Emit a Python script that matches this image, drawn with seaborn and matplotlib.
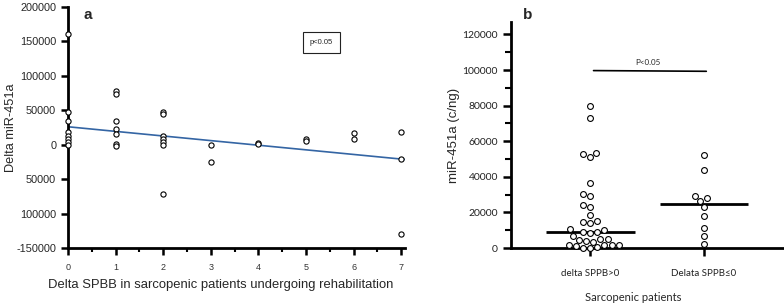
import numpy as np
import pandas as pd
import matplotlib
matplotlib.use("Agg")
import matplotlib.pyplot as plt
from matplotlib.ticker import MultipleLocator
import seaborn as sns

# panel a: change in SPPB vs change in miR-451a
spbb_delta = [0, 0, 0, 0, 0, 0, 0, 0,
              1, 1, 1, 1, 1, 1, 1,
              2, 2, 2, 2, 2, 2, 2,
              3, 3, 4, 4, 5, 5, 6, 6,
              7, 7, 7]
mir_delta = [161000, 48000, 35000, 18000, 12000, 8000, 4000, 0,
             78000, 74000, 35000, 23000, 16000, 1000, -2000,
             48000, 44000, 12000, 8000, 4000, 0, -72000,
             0, -25000, 3000, 1500, 8000, 5000, 17000, 8000,
             19000, -21000, -130000]
fit_intercept = 26000
fit_slope = -6700
a_ytick_vals = [-150000, -100000, -50000, 0, 50000, 100000, 150000, 200000]
a_ytick_labels = ["-150000", "100000", "50000", "0", "50000", "100000", "150000", "200000"]

# panel b: miR-451a by SPPB group
groups = ["delta SPPB>0", "Delata SPPB\u22640"]
mir_pos = [80000, 73000, 53500, 53000, 51400, 36600, 30400, 29300, 24200, 22900,
           18600, 15400, 14800, 14300, 10500, 10000, 9000, 9000, 8500, 7000,
           5000, 5000, 4500, 4000, 3500, 1500, 1500, 1500, 1500, 1000, 300, 0, 0]
mir_neg = [52200, 43600, 29300, 28000, 26500, 23100, 18200, 11400, 6900, 2400]

sns.set_style("ticks")
plt.rcParams["font.family"] = ["Liberation Sans", "DejaVu Sans"]
lato = ["Lato", "DejaVu Sans"]

fig = plt.figure(figsize=(7.84, 3.06), dpi=100)
ax1 = fig.add_axes([0.0867, 0.1895, 0.430, 0.788])
ax2 = fig.add_axes([0.652, 0.1895, 0.348, 0.7386])

# ---- panel a
df_a = pd.DataFrame({"x": spbb_delta, "y": mir_delta})
ax1.axline((0, fit_intercept), slope=fit_slope, color="#3465a4", lw=1.2, zorder=2)
sns.scatterplot(data=df_a, x="x", y="y", ax=ax1, marker="o", s=14,
                facecolor="white", edgecolor="black", linewidth=0.8,
                zorder=5, clip_on=False)
ax1.set_xlim(0, 7.08)
ax1.set_ylim(-150000, 200000)
ax1.set_yticks(a_ytick_vals)
ax1.set_yticklabels(a_ytick_labels, fontsize=7.8)
ax1.set_xticks(range(8))
ax1.xaxis.set_minor_locator(MultipleLocator(0.5))
ax1.tick_params(axis="x", labelsize=6.5, labelcolor="#333333", pad=6)
ax1.tick_params(which="major", length=5, width=1.8, direction="out", color="black")
ax1.tick_params(which="minor", axis="x", length=3, width=1.5, color="black")
ax1.set_xlabel("Delta SPBB in sarcopenic patients undergoing rehabilitation",
               fontsize=9.4)
ax1.xaxis.set_label_coords(0.454, -0.155)
ax1.xaxis.label.set_va("center")
ax1.set_ylabel("Delta miR-451a", fontsize=9.2)
ax1.yaxis.set_label_coords(-0.168, 0.5)
ax1.yaxis.label.set_va("center")
for sp in ["left", "bottom"]:
    ax1.spines[sp].set_linewidth(2.0)
    ax1.spines[sp].set_color("black")
sns.despine(ax=ax1)
ax1.text(0.06, 0.967, "a", transform=ax1.transAxes, fontsize=11, fontweight="bold",
         ha="center", va="center")
ax1.text(0.751, 0.851, "p<0.05", transform=ax1.transAxes, fontsize=5.5,
         ha="center", va="center",
         bbox=dict(boxstyle="square,pad=0.9", facecolor="white",
                   edgecolor="#222222", linewidth=0.8))

# ---- panel b
df_b = pd.DataFrame({
    "group": [groups[0]] * len(mir_pos) + [groups[1]] * len(mir_neg),
    "value": mir_pos + mir_neg,
})
sns.swarmplot(data=df_b, x="group", y="value", order=groups, ax=ax2, size=4.2,
              color="white", edgecolor="black", linewidth=0.8, zorder=5)
for coll in ax2.collections:
    coll.set_clip_on(False)
medians = df_b.groupby("group")["value"].median()
for i, g in enumerate(groups):
    ax2.hlines(medians[g], i - 0.39, i + 0.39, color="black", lw=2.0, zorder=3)
ax2.plot([0.03, 1.02], [99700, 99300], color="black", lw=1.2)
ax2.text(0.51, 102500, "P<0.05", ha="center", va="bottom", fontsize=5.8,
         family=lato)
ax2.set_xlim(-0.693, 1.702)
ax2.set_ylim(0, 127000)
ax2.set_yticks(range(0, 120001, 20000))
ax2.yaxis.set_minor_locator(MultipleLocator(10000))
ax2.tick_params(axis="y", labelsize=7.5)
ax2.tick_params(axis="x", labelsize=7, pad=9)
ax2.tick_params(which="major", length=6, width=1.8, direction="out", color="black")
ax2.tick_params(which="minor", length=4, width=1.5, color="black")
for lab in ax2.get_xticklabels() + ax2.get_yticklabels():
    lab.set_family(lato)
    lab.set_color("#222222")
ax2.set_xlabel("Sarcopenic patients", fontsize=8, family=lato)
ax2.xaxis.set_label_coords(0.447, -0.22)
ax2.xaxis.label.set_va("center")
ax2.set_ylabel("miR-451a (c/ng)", fontsize=9.5, labelpad=2)
for sp in ["left", "bottom"]:
    ax2.spines[sp].set_linewidth(2.0)
    ax2.spines[sp].set_color("black")
sns.despine(ax=ax2)
ax2.text(0.062, 1.03, "b", transform=ax2.transAxes, fontsize=11, fontweight="bold",
         ha="center", va="center")

fig.savefig("out.png", dpi=100)
